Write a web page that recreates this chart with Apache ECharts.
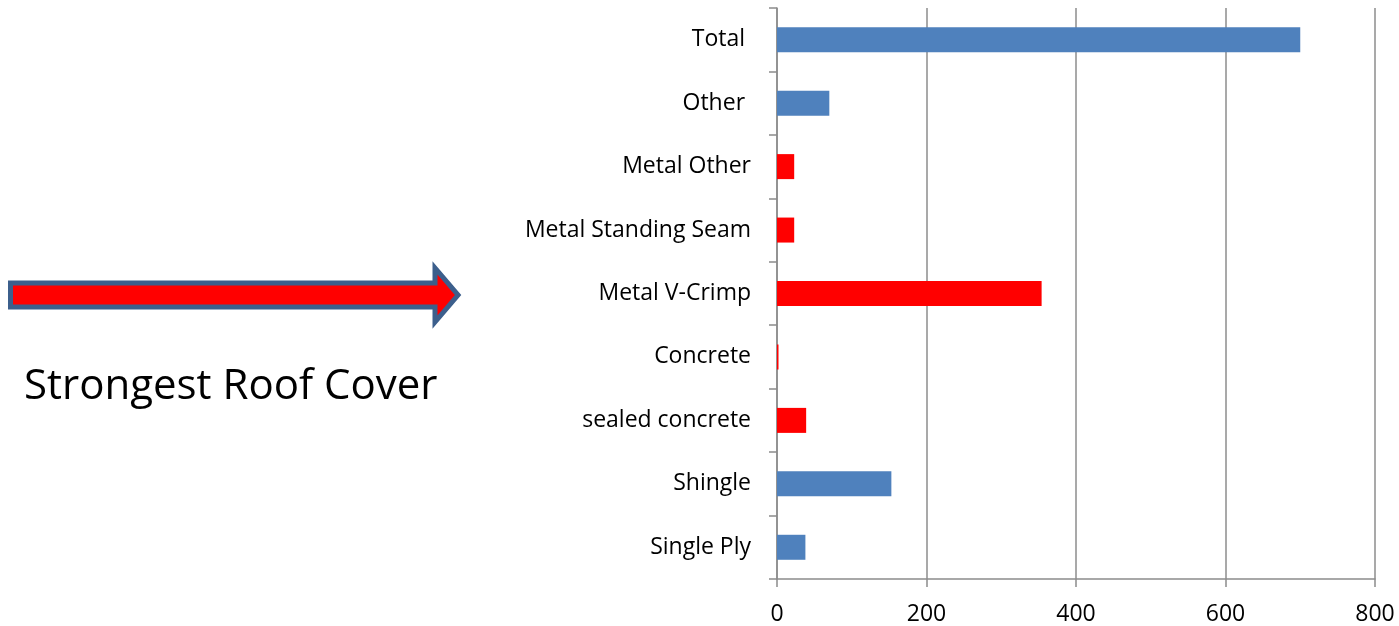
<!DOCTYPE html>
<html>
<head>
<meta charset="utf-8">
<title>Roof Cover</title>
<script src="https://cdn.jsdelivr.net/npm/echarts@6/dist/echarts.min.js"></script>
<style>
  html, body { margin: 0; padding: 0; background: #fff; }
  #chart { width: 1399px; height: 626px; }
</style>
</head>
<body>
<div id="chart"></div>
<script>
// Roof cover types, top to bottom
const categories = ['Total ', 'Other ', 'Metal Other', 'Metal Standing Seam', 'Metal V-Crimp',
                    'Concrete', 'sealed concrete', 'Shingle', 'Single Ply'];
const counts = [700, 70, 23, 23, 354, 2, 39, 153, 38];
// metal and concrete covers are highlighted in red
const barColors = ['#4F81BD', '#4F81BD', '#FF0000', '#FF0000', '#FF0000',
                   '#FF0000', '#FF0000', '#4F81BD', '#4F81BD'];
const xTicks = [0, 200, 400, 600, 800];

const FONT = 'Open Sans';
const LINE = '#8C8C8C';

const chart = echarts.init(document.getElementById('chart'), null, { renderer: 'canvas' });

chart.setOption({
  animation: false,
  backgroundColor: '#ffffff',
  grid: { left: 777, right: 24, top: 8, bottom: 46, containLabel: false },
  xAxis: {
    type: 'value',
    min: xTicks[0],
    max: xTicks[xTicks.length - 1],
    interval: xTicks[1] - xTicks[0],
    axisLine: { show: true, lineStyle: { color: LINE, width: 1.5 } },
    axisTick: { show: true, length: 8, lineStyle: { color: LINE, width: 1.5 } },
    splitLine: { show: true, lineStyle: { color: LINE, width: 1.5 } },
    axisLabel: { color: '#000', fontFamily: FONT, fontSize: 23, margin: 24 }
  },
  yAxis: {
    type: 'category',
    data: categories,
    inverse: true,
    axisLine: { show: true, lineStyle: { color: LINE, width: 1.5 } },
    axisTick: { show: true, length: 8, lineStyle: { color: LINE, width: 1.5 } },
    axisLabel: { color: '#000', fontFamily: FONT, fontSize: 23, margin: 26, padding: [0, 0, 7, 0] }
  },
  series: [{
    type: 'bar',
    barWidth: 25,
    data: counts.map((v, i) => ({ value: v, itemStyle: { color: barColors[i] } }))
  }],
  graphic: [
    {
      type: 'polygon',
      shape: {
        points: [[10.5, 283], [435, 283], [435, 268], [458, 295], [435, 322], [435, 307], [10.5, 307]]
      },
      style: { fill: '#FF0000', stroke: '#3C5F8C', lineWidth: 5, lineJoin: 'miter' }
    },
    {
      type: 'text',
      left: 24,
      top: 366,
      style: {
        text: 'Strongest Roof Cover',
        fontFamily: FONT,
        fontSize: 42,
        fill: '#000'
      }
    }
  ]
});
</script>
</body>
</html>
